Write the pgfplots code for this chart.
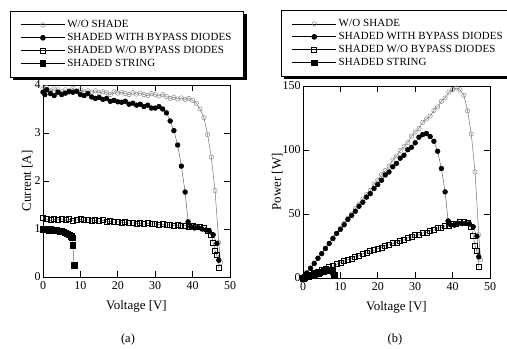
\documentclass[border=0pt]{standalone}
\usepackage{fontspec}
\setmainfont{Liberation Serif}
\usepackage{pgfplots}
\usepackage{pgfplotstable}
\pgfplotsset{compat=1.18}

% W/O SHADE: V I P
\pgfplotstableread{
V I P
0 3.92 0
1 3.95 3.95
2 3.88 7.76
3 3.92 11.76
4 3.90 15.6
5 3.86 19.3
6 3.90 23.4
7 3.88 27.2
8 3.93 31.4
9 3.87 34.8
10 3.90 39.0
11 3.86 42.5
12 3.88 46.6
13 3.85 50.1
14 3.88 54.3
15 3.84 57.6
16 3.86 61.8
17 3.84 65.3
18 3.80 68.4
19 3.86 73.3
20 3.83 76.6
21 3.85 80.9
22 3.82 84.0
23 3.80 87.4
24 3.84 92.2
25 3.81 95.3
26 3.83 99.6
27 3.80 102.6
28 3.78 105.8
29 3.82 110.8
30 3.80 114.0
31 3.77 116.9
32 3.80 121.6
33 3.76 124.1
34 3.72 126.5
35 3.74 130.9
36 3.71 133.6
37 3.73 138.0
38 3.70 140.6
39 3.72 145.1
40 3.68 147.2
41 3.62 148.4
42 3.50 147.0
43 3.32 142.8
44 2.97 130.7
45 2.50 112.5
46 1.80 82.8
47 0.72 33.8
47.5 0.30 14.3
}\noshade

% SHADED WITH BYPASS DIODES
\pgfplotstableread{
V I P
0 3.85 0
0.5 3.80 1.9
1 3.90 3.9
2 3.82 7.64
3 3.78 11.34
4 3.85 15.4
5 3.80 19.0
6 3.83 23.0
7 3.86 27.0
8 3.85 30.8
9 3.87 34.8
10 3.80 38.0
11 3.78 41.6
12 3.82 45.8
13 3.75 48.8
14 3.72 52.1
15 3.74 56.1
16 3.70 59.2
17 3.72 63.2
18 3.66 65.9
19 3.68 69.9
20 3.65 73.0
21 3.64 76.4
22 3.66 80.5
23 3.60 82.8
24 3.62 86.9
25 3.58 89.5
26 3.60 93.6
27 3.55 95.9
28 3.58 100.2
29 3.52 102.1
30 3.52 105.6
31 3.55 110.0
32 3.50 112.0
33 3.42 112.9
34 3.25 110.5
35 3.05 106.8
36 2.75 99.0
37 2.31 85.5
38 1.77 67.3
38.8 1.15 44.6
39.5 1.05 41.5
40.5 1.02 41.3
41.5 1.03 42.7
42.5 1.00 42.5
43.5 0.98 42.6
44.5 0.95 42.3
45.5 0.88 40.0
46.5 0.70 32.6
47 0.35 16.5
}\bypass

% SHADED W/O BYPASS DIODES
\pgfplotstableread{
V I P
0 1.24 0
1 1.20 1.2
2 1.18 2.36
3 1.20 3.6
4 1.19 4.76
5 1.21 6.05
6 1.18 7.08
7 1.20 8.4
8 1.17 9.36
9 1.19 10.7
10 1.20 12.0
11 1.18 13.0
12 1.19 14.3
13 1.17 15.2
14 1.18 16.5
15 1.16 17.4
16 1.18 18.9
17 1.15 19.6
18 1.16 20.9
19 1.14 21.7
20 1.15 23.0
21 1.13 23.7
22 1.14 25.1
23 1.12 25.8
24 1.13 27.1
25 1.11 27.8
26 1.12 29.1
27 1.10 29.7
28 1.12 31.4
29 1.10 31.9
30 1.11 33.3
31 1.09 33.8
32 1.10 35.2
33 1.08 35.6
34 1.09 37.1
35 1.07 37.5
36 1.08 38.9
37 1.06 39.2
38 1.07 40.7
39 1.05 41.0
40 1.06 42.4
41 1.04 42.6
42 1.05 44.1
43 1.02 43.9
44 0.97 42.7
45 0.88 39.6
45.5 0.72 32.8
46 0.55 25.3
46.5 0.45 20.9
47 0.18 8.5
}\nobypass

% SHADED STRING
\pgfplotstableread{
V I P
0 1.00 0
0.5 0.99 0.5
1 1.00 1.0
1.5 0.98 1.47
2 1.00 2.0
2.5 0.98 2.45
3 0.97 2.91
3.5 0.97 3.4
4 0.96 3.84
4.5 0.95 4.28
5 0.95 4.75
5.5 0.94 5.17
6 0.92 5.52
6.5 0.90 5.85
7 0.88 6.16
7.5 0.85 6.38
7.8 0.82 6.4
8 0.66 5.28
8.3 0.25 2.08
}\strdata

\pgfplotsset{
 myaxis/.style={
  scale only axis, width=187bp, height=192bp,
  xmin=0, xmax=50, xtick={0,10,...,50},
  tick align=inside, major tick length=6bp,
  axis line style={line width=0.9bp},
  every tick/.style={line width=0.9bp, black},
  tick label style={font=\fontsize{12}{13}\selectfont},
  label style={font=\fontsize{13}{14}\selectfont},
  xticklabel style={yshift=-1bp},
  yticklabel style={xshift=1bp},
  xlabel style={yshift=-4bp},
  /pgf/number format/assume math mode=true,
  xlabel={Voltage [V]},
  legend cell align=left,
  legend style={font=\fontsize{11}{12}\selectfont\addfontfeatures{LetterSpace=1},
    draw=black, line width=0.8bp,
    fill=white, anchor=north west, row sep=0.2bp,
    inner xsep=10bp, inner ysep=7bp},
  legend image code/.code={\draw[mark repeat=2,mark phase=2,#1,draw=black,line width=0.8bp] plot coordinates {(0bp,0bp)(22bp,0bp)(44bp,0bp)};},
 },
 s1/.style={draw=black!55, line width=0.5bp, mark=o, mark size=2.2bp, mark options={draw=black!45, fill=white, line width=0.5bp}},
 s2/.style={draw=black!60, line width=0.5bp, mark=*, mark size=2.4bp, mark options={draw=black, fill=black}},
 s3/.style={draw=black!60, line width=0.5bp, mark=square, mark size=2.5bp, mark options={draw=black, fill=white, line width=0.8bp}},
 s4/.style={draw=black!60, line width=0.5bp, mark=square*, mark size=2.8bp, mark options={draw=black, fill=black}},
}

\begin{document}
\begin{tikzpicture}
\useasboundingbox (0,0) rectangle (507bp,349bp);
\begin{axis}[myaxis, at={(43bp,72bp)}, anchor=south west,
  ymin=0, ymax=4, ytick={0,1,2,3,4}, ylabel={Current [A]},
  ylabel style={yshift=-5bp},
  legend style={at={(-0.176,1.385)}, name=legA}]
\addplot[s1] table[x=V,y=I] {\noshade};
\addplot[s2] table[x=V,y=I] {\bypass};
\addplot[s3] table[x=V,y=I] {\nobypass};
\addplot[s4] table[x=V,y=I] {\strdata};
\legend{W/O SHADE, SHADED WITH BYPASS DIODES, SHADED W/O BYPASS DIODES, SHADED STRING}
\end{axis}
\begin{axis}[myaxis, at={(303bp,71bp)}, anchor=south west,
  ymin=0, ymax=150, ytick={0,50,100,150}, ylabel={Power [W]},
  ylabel style={yshift=-7bp},
  legend style={at={(-0.115,1.395)}, name=legB}]
\addplot[s1] table[x=V,y=P] {\noshade};
\addplot[s2] table[x=V,y=P] {\bypass};
\addplot[s3] table[x=V,y=P] {\nobypass};
\addplot[s4] table[x=V,y=P] {\strdata};
\legend{W/O SHADE, SHADED WITH BYPASS DIODES, SHADED W/O BYPASS DIODES, SHADED STRING}
\end{axis}
\foreach \L in {legA,legB}{
  \draw[line width=2.6bp] ([xshift=1.7bp,yshift=-3bp]\L.north east) -- ([xshift=1.7bp,yshift=-1.7bp]\L.south east) -- ([xshift=3bp,yshift=-1.7bp]\L.south west);
}
\node[font=\fontsize{12.5}{13}\selectfont] at (128bp,9bp) {(a)};
\node[font=\fontsize{12.5}{13}\selectfont] at (395bp,9bp) {(b)};
\end{tikzpicture}
\end{document}
